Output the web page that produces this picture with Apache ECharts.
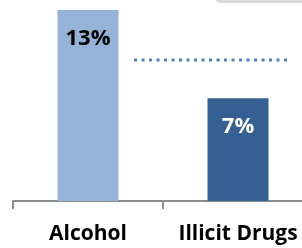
<!DOCTYPE html>
<html>
<head>
<meta charset="utf-8">
<script src="https://cdn.jsdelivr.net/npm/echarts@6/dist/echarts.min.js"></script>
<style>html,body{margin:0;padding:0;background:#fff;}#c{width:302px;height:248px;}</style>
</head>
<body>
<div id="c"></div>
<script>
const categories = ['Alcohol', 'Illicit Drugs'];
const values = [13, 7];
const barColors = ['#95b3d7', '#376092'];
const labelColors = ['#000000', '#ffffff'];
const refValue = 9.6;
const refSpan = [0.807, 1.833];

const chart = echarts.init(document.getElementById('c'), null, {renderer: 'canvas'});
const font = '"Open Sans", Lato, sans-serif';
chart.setOption({
  animation: false,
  grid: {left: 13, right: -11, top: 10, bottom: 47, containLabel: false, outerBoundsMode: 'none'},
  xAxis: [{
    type: 'category',
    data: categories,
    boundaryGap: true,
    axisLine: {lineStyle: {color: '#8c8c8c', width: 2}},
    axisTick: {show: true, interval: 0, length: 8, alignWithLabel: false, lineStyle: {color: '#8c8c8c', width: 2}},
    axisLabel: {interval: 0, margin: 23, color: '#000', fontWeight: 'bold', fontSize: 21, fontFamily: font, hideOverlap: false}
  }, {
    type: 'value', min: 0, max: 2, show: false
  }],
  yAxis: {type: 'value', min: 0, max: 13, show: false, splitLine: {show: false}},
  graphic: [{
    type: 'rect', shape: {x: 215, y: -20, width: 120, height: 23, r: 6},
    style: {fill: '#d9d9d9'}, z: 10
  }],
  series: [{
    type: 'bar',
    barWidth: 61,
    data: values.map((v, i) => ({value: v, itemStyle: {color: barColors[i]},
      label: {color: labelColors[i]}})),
    label: {show: true, position: 'insideTop', distance: 18, formatter: '{c}%',
      fontWeight: 'bold', fontSize: 22, fontFamily: font}
  }, {
    type: 'line',
    xAxisIndex: 1,
    symbol: 'none',
    data: [[refSpan[0], refValue], [refSpan[1], refValue]],
    lineStyle: {color: '#4f81bd', width: 3, type: [3, 4.5]}
  }]
});
</script>
</body>
</html>
